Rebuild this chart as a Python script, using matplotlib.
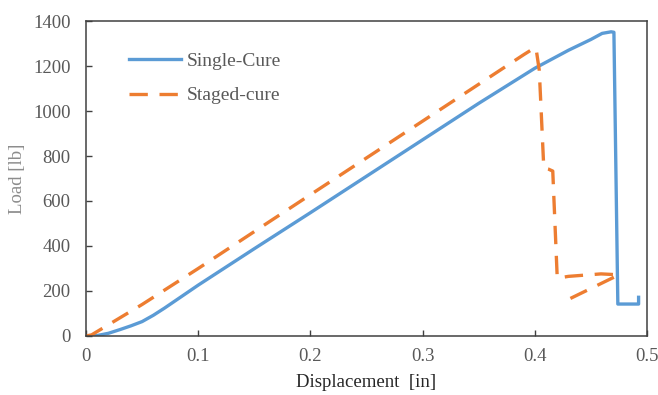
import matplotlib
matplotlib.use("Agg")
import matplotlib.pyplot as plt

# load-displacement readings taken off the original figure
single_x = [0.0, 0.01, 0.02, 0.03, 0.04, 0.05, 0.06, 0.07, 0.08, 0.09, 0.10,
            0.15, 0.20, 0.25, 0.30, 0.35, 0.40, 0.43, 0.45, 0.460, 0.468,
            0.4705, 0.474, 0.4925, 0.4925]
single_y = [0, 2, 12, 28, 45, 64, 92, 124, 158, 192, 226,
            388, 548, 710, 872, 1034, 1190, 1270, 1318, 1345, 1352,
            1350, 142, 142, 172]

staged_x = [0.0, 0.005, 0.05, 0.10, 0.20, 0.30, 0.39, 0.398, 0.401,
            0.404, 0.408, 0.412, 0.416, 0.420, 0.430, 0.459, 0.475, 0.426]
staged_y = [0, 5, 140, 300, 628, 955, 1250, 1275, 1282,
            1180, 747, 742, 733, 257, 265, 276, 272, 153]

x_ticks = [0, 0.1, 0.2, 0.3, 0.4, 0.5]
y_ticks = [0, 200, 400, 600, 800, 1000, 1200, 1400]

plt.rcParams['font.family'] = ['Liberation Serif', 'DejaVu Serif']

fig = plt.figure(figsize=(6.58, 3.95), dpi=100)
ax = fig.add_axes([0.1307, 0.1494, 0.8526, 0.7974])

ax.plot(single_x, single_y, color='#5B9BD5', lw=2.4, label='Single-Cure')
ax.plot(staged_x, staged_y, color='#ED7D31', lw=2.4, dashes=(5.5, 3.5),
        label='Staged-cure')

ax.set_xlim(0, 0.5)
ax.set_ylim(0, 1400)
ax.set_xticks(x_ticks)
ax.set_xticklabels(['0', '0.1', '0.2', '0.3', '0.4', '0.5'])
ax.set_yticks(y_ticks)
ax.tick_params(direction='in', length=4, width=1, colors='#404040',
               labelsize=13.5, labelcolor='#595959')
ax.tick_params(axis='y', pad=11)
ax.tick_params(axis='x', pad=9)

for sp in ax.spines.values():
    sp.set_color('#404040')
    sp.set_linewidth(1.1)

ax.set_xlabel('Displacement  [in]', fontsize=13.5, color='#262626', labelpad=6)
ax.set_ylabel('Load [lb]', fontsize=13.5, color='#8c8c8c', labelpad=5)

ax.legend(loc='upper left', bbox_to_anchor=(0.045, 0.955), frameon=False,
          fontsize=14, handlelength=2.7, labelspacing=0.85, handletextpad=0.3,
          labelcolor='#595959')

fig.savefig('out.png', dpi=100)
